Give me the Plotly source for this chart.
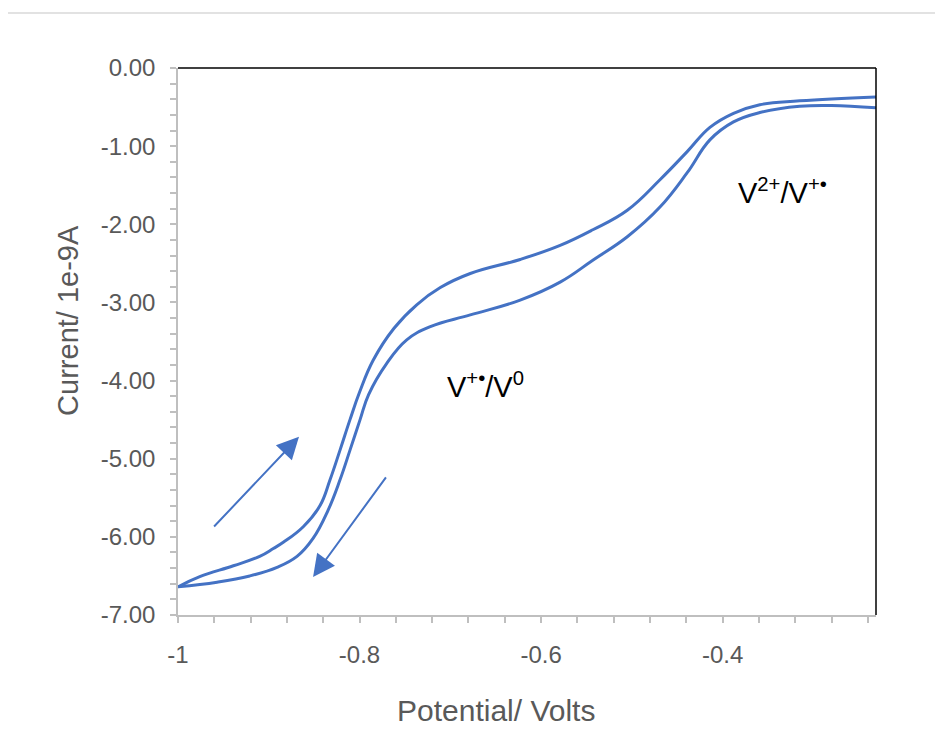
import plotly.graph_objects as go

# Forward scan (upper branch): potential in V, current in 1e-9 A
fwd_x = [-1.0, -0.976, -0.939, -0.910, -0.895, -0.884, -0.862, -0.8435, -0.8325, -0.8215,
         -0.8105, -0.800, -0.785, -0.762, -0.737, -0.711, -0.678, -0.623, -0.579, -0.543,
         -0.505, -0.469, -0.439, -0.414, -0.388, -0.359, -0.315, -0.231]
fwd_y = [-6.64, -6.51, -6.37, -6.25, -6.15, -6.07, -5.87, -5.60, -5.27, -4.89,
         -4.50, -4.15, -3.74, -3.33, -3.03, -2.81, -2.63, -2.45, -2.27, -2.07,
         -1.82, -1.43, -1.07, -0.76, -0.58, -0.47, -0.42, -0.37]
# Reverse scan (lower branch)
rev_x = [-0.231, -0.280, -0.315, -0.359, -0.388, -0.414, -0.439, -0.469, -0.505, -0.543,
         -0.579, -0.623, -0.678, -0.722, -0.748, -0.770, -0.790, -0.7994, -0.8105, -0.8215,
         -0.8347, -0.8512, -0.8689, -0.8909, -0.921, -0.957, -1.0]
rev_y = [-0.51, -0.48, -0.49, -0.57, -0.69, -0.92, -1.34, -1.78, -2.16, -2.46,
         -2.74, -2.97, -3.16, -3.31, -3.48, -3.78, -4.18, -4.50, -4.89, -5.27,
         -5.66, -6.02, -6.25, -6.39, -6.50, -6.58, -6.64]

x_tickvals = [-1.0, -0.8, -0.6, -0.4]
x_ticktext = ["-1", "-0.8", "-0.6", "-0.4"]
y_tickvals = [0, -1, -2, -3, -4, -5, -6, -7]
y_ticktext = ["0.00", "-1.00", "-2.00", "-3.00", "-4.00", "-5.00", "-6.00", "-7.00"]

line_color = "#4472C4"
grey = "#595959"
axis_grey = "#BFBFBF"
font = "Liberation Sans, Arial, sans-serif"

fig = go.Figure()
for xs, ys in ((fwd_x, fwd_y), (rev_x, rev_y)):
    fig.add_trace(go.Scatter(x=xs, y=ys, mode="lines",
                             line=dict(color=line_color, width=3, shape="spline", smoothing=1.2),
                             showlegend=False, hoverinfo="skip"))

fig.update_layout(
    width=935, height=734,
    margin=dict(l=170, r=67, t=60, b=127),
    paper_bgcolor="white", plot_bgcolor="white",
    font=dict(family=font, color=grey),
    xaxis=dict(range=[-1.0, -0.231], tickvals=x_tickvals, ticktext=x_ticktext,
               showgrid=False, zeroline=False, showline=True, linecolor=axis_grey, linewidth=1.5,
               ticks="outside", ticklen=6, tickcolor=axis_grey, tickwidth=1.5,
               ticklabelstandoff=11,
               minor=dict(dtick=0.04, tick0=-1, ticks="outside", ticklen=6, tickcolor=axis_grey,
                          tickwidth=1.5, showgrid=False),
               tickfont=dict(size=24, color=grey, family=font)),
    yaxis=dict(range=[-7, 0], tickvals=y_tickvals, ticktext=y_ticktext,
               showgrid=False, zeroline=False, showline=True, linecolor=axis_grey, linewidth=1.5,
               ticks="outside", ticklen=6, tickcolor=axis_grey, tickwidth=1.5,
               ticklabelstandoff=10,
               minor=dict(dtick=0.2, tick0=0, ticks="outside", ticklen=6, tickcolor=axis_grey,
                          tickwidth=1.5, showgrid=False),
               tickfont=dict(size=24, color=grey, family=font)),
    shapes=[
        dict(type="rect", xref="paper", yref="paper", x0=-0.2493, x1=1.2, y0=-0.3, y1=1.1005,
             line=dict(color="#D9D9D9", width=1.5), fillcolor="rgba(0,0,0,0)", layer="below"),
        dict(type="line", xref="paper", yref="paper", x0=0, x1=1, y0=1, y1=1,
             line=dict(color="black", width=1.5)),
        dict(type="line", xref="paper", yref="paper", x0=1, x1=1, y0=0, y1=1,
             line=dict(color="black", width=1.5)),
    ],
    annotations=[
        dict(text="Current/ 1e-9A", xref="paper", yref="paper", x=-0.158, y=0.539,
             textangle=-90, showarrow=False, font=dict(size=29, color=grey, family=font),
             xanchor="center", yanchor="middle"),
        dict(text="Potential/ Volts", xref="paper", yref="paper", x=0.4556, y=-0.1737,
             showarrow=False, font=dict(size=30, color=grey, family=font),
             xanchor="center", yanchor="middle"),
        dict(text="V<sup>2+</sup>/V<sup>+•</sup>", x=-0.3344, y=-1.574, xref="x", yref="y",
             showarrow=False, font=dict(size=29, color="black", family=font)),
        dict(text="V<sup>+•</sup>/V<sup>0</sup>", x=-0.661, y=-4.06, xref="x", yref="y",
             showarrow=False, font=dict(size=29, color="black", family=font)),
        dict(x=-0.8667, y=-4.72, ax=-0.9618, ay=-5.887, xref="x", yref="y", axref="x", ayref="y",
             text="", showarrow=True, arrowhead=2, arrowsize=2.2, arrowwidth=2, arrowcolor=line_color),
        dict(x=-0.8512, y=-6.515, ax=-0.7697, ay=-5.22, xref="x", yref="y", axref="x", ayref="y",
             text="", showarrow=True, arrowhead=2, arrowsize=2.2, arrowwidth=2, arrowcolor=line_color),
    ],
)

fig.write_html("out.html")
